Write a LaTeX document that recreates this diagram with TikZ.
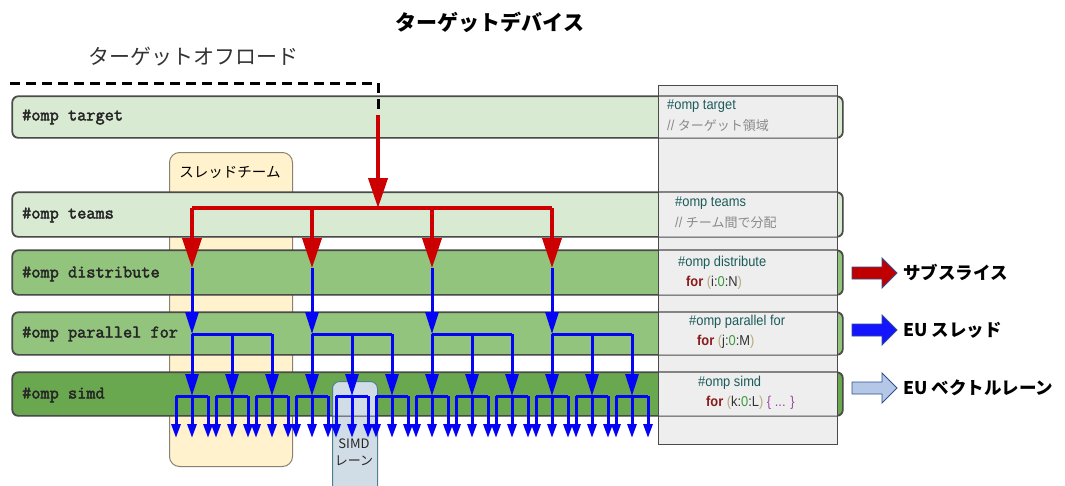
\documentclass[tikz,border=0pt]{standalone}
\usepackage{fontspec}
\usetikzlibrary{arrows.meta}
\newfontfamily\jp{Noto Sans CJK JP}
\newfontfamily\narf[FakeStretch=0.9]{Liberation Sans}
\newfontfamily\monof[FakeBold=2.5]{Latin Modern Mono}
\definecolor{lightg}{HTML}{D9EAD3}
\definecolor{midg}{HTML}{93C47D}
\definecolor{darkg}{HTML}{6AA84F}
\definecolor{barline}{HTML}{4A4A4A}
\definecolor{greyfill}{HTML}{EEEEEE}
\definecolor{teamfill}{HTML}{FFF2CC}
\definecolor{teamline}{HTML}{8A8270}
\definecolor{simdfill}{HTML}{D0DCE6}
\definecolor{simdline}{HTML}{4F7F8F}
\definecolor{redc}{HTML}{CC0000}
\definecolor{bluec}{HTML}{0505F5}
\definecolor{tealc}{HTML}{1D5B5B}
\definecolor{cmtc}{HTML}{8A8A8A}
\definecolor{forc}{HTML}{8B1A1A}
\definecolor{parc}{HTML}{B8A77A}
\definecolor{numc}{HTML}{3C9A3C}
\definecolor{idc}{HTML}{333333}
\definecolor{bracec}{HTML}{9B4A9B}
\definecolor{legred}{HTML}{C00000}
\definecolor{legblue}{HTML}{1414FF}
\definecolor{legltblue}{HTML}{B4C7E7}
\definecolor{legline}{HTML}{2F4F8F}
\begin{document}
\begin{tikzpicture}[x=1pt,y=-1pt,
  bar/.style={draw=barline, line width=1.1pt, rounded corners=6pt, anchor=north west, minimum width=830pt, inner sep=0pt},
  bartext/.style={anchor=west, inner sep=0pt, font=\monof\fontsize{17.8}{17.8}\selectfont, text=black!85},
  codetext/.style={anchor=west, inner sep=0pt, font=\narf\fontsize{14.3}{14.3}\selectfont},
  legtext/.style={anchor=west, inner sep=0pt, font=\jp\bfseries\fontsize{17.5}{18}\selectfont},
  redline/.style={draw=redc, line width=4pt},
  redarr/.style={redline, -{Triangle[length=30pt,width=19pt]}},
  blueline/.style={draw=bluec, line width=3pt},
  bluearrA/.style={blueline, -{Triangle[length=22pt,width=13pt]}},
  bluearrB/.style={blueline, -{Triangle[length=14pt,width=9pt]}},
  legarrow/.style={draw=legline, line width=0.8pt, line join=miter}
]
\useasboundingbox (0,0) rectangle (1065,485);
\clip (0,0) rectangle (1065,485);

% titles
\node[font=\jp\bfseries\fontsize{21}{21}\selectfont] (title) at (490,22) {ターゲットデバイス};
\node[font=\jp\fontsize{21}{21}\selectfont, text=black!80] (offload) at (193,57) {ターゲットオフロード};

% thread team box
\node[draw=teamline, fill=teamfill, line width=1pt, rounded corners=10pt, anchor=north west,
      minimum width=123pt, minimum height=314pt, inner sep=0pt] (team) at (169,152) {};
\node[font=\jp\fontsize{14.5}{15}\selectfont] (teamlbl) at (230,172) {スレッドチーム};

% bars
\node[bar, fill=lightg, minimum height=41pt] (btarget) at (12,96) {};
\node[bar, fill=lightg, minimum height=44pt] (bteams) at (12,192) {};
\node[bar, fill=midg, minimum height=44pt] (bdist) at (12,250) {};
\node[bar, fill=midg, minimum height=42pt] (bpar) at (12,312) {};
\node[bar, fill=darkg, minimum height=43pt] (bsimd) at (12,372) {};

% SIMD lane box
\node[draw=simdline, fill=simdfill, line width=1pt, rounded corners=7pt, anchor=north west,
      minimum width=45pt, minimum height=120pt, inner sep=0pt] (simdbox) at (332,381) {};
\node[font=\jp\fontsize{13}{17}\selectfont, align=center, text=black!85] (simdlbl) at (354,452) {SIMD\\レーン};

% grey code box
\node[draw=barline, fill=greyfill, line width=1.1pt, anchor=north west,
      minimum width=179pt, minimum height=359pt, inner sep=0pt] (grey) at (658,85) {};

% bar outlines over the grey box
\foreach \b in {btarget,bteams,bdist,bpar,bsimd}
  \draw[draw=barline, line width=1.1pt, rounded corners=6pt] (\b.north west) rectangle (\b.south east);

% bar texts
\node[bartext] (ttarget) at (22,117) {\#omp target};
\node[bartext] (tteams) at (22,215) {\#omp teams};
\node[bartext] (tdist) at (22,274) {\#omp distribute};
\node[bartext] (tpar) at (22,334) {\#omp parallel for};
\node[bartext] (tsimd) at (22,395) {\#omp simd};

% code texts
\node[codetext, text=tealc] (c1) at (667,106) {\#omp target};
\node[codetext, text=cmtc] (c1b) at (667,126) {// {\jp\fontsize{13}{13}\selectfont ターゲット領域}};
\node[codetext, text=tealc] (c2) at (675,203) {\#omp teams};
\node[codetext, text=cmtc] (c2b) at (675,223) {// {\jp\fontsize{13}{13}\selectfont チーム間で分配}};
\node[codetext, text=tealc] (c3) at (678,263) {\#omp distribute};
\node[codetext] (c3b) at (686,283) {\textcolor{forc}{\bfseries for} \textcolor{parc}{(}\textcolor{idc}{i:}\textcolor{numc}{0}\textcolor{idc}{:N}\textcolor{parc}{)}};
\node[codetext, text=tealc] (c4) at (689,322) {\#omp parallel for};
\node[codetext] (c4b) at (697,342) {\textcolor{forc}{\bfseries for} \textcolor{parc}{(}\textcolor{idc}{j:}\textcolor{numc}{0}\textcolor{idc}{:M}\textcolor{parc}{)}};
\node[codetext, text=tealc] (c5) at (698,383) {\#omp simd};
\node[codetext] (c5b) at (706,403) {\textcolor{forc}{\bfseries for} \textcolor{parc}{(}\textcolor{idc}{k:}\textcolor{numc}{0}\textcolor{idc}{:L}\textcolor{parc}{)} \textcolor{bracec}{\{ ... \}}};

% offload dashed line
\coordinate (offL) at (10,83);
\coordinate (offC) at (378,83);
\coordinate (offE) at (378,113);
\draw[black, line width=3pt, dash pattern=on 10pt off 6pt] (offL) -- (offC) -- (offE);

% red distribution
\coordinate (src) at (378,115);
\coordinate (hub) at (378,208);
\coordinate (hL) at (192,208);
\coordinate (hR) at (552,208);
\draw[redline, line cap=square] (hL) -- (hR);
\draw[redarr] (src) -- (hub);

\foreach \i [evaluate=\i as \tx using 192+120*\i] in {0,1,2,3} {
  \coordinate (tm\i) at (\tx,208);
  \coordinate (td\i) at (\tx,268);
  \coordinate (tp\i) at (\tx,334);
  \coordinate (tpe\i) at (\tx+80,334);
  \draw[redarr] (tm\i) -- (td\i);
  \draw[blueline, line cap=square] (tp\i) -- (tpe\i);
  \draw[bluearrA] (td\i) -- (tp\i);
  \foreach \j [evaluate=\j as \hx using \tx+40*\j] in {0,1,2} {
    \coordinate (th\i\j) at (\hx,334);
    \coordinate (ts\i\j) at (\hx,396);
    \coordinate (lsL\i\j) at (\hx-16,396);
    \coordinate (lsR\i\j) at (\hx+16,396);
    \draw[blueline, line cap=square] (lsL\i\j) -- (lsR\i\j);
    \draw[bluearrA] (th\i\j) -- (ts\i\j);
    \foreach \k [evaluate=\k as \lx using \hx+16*(\k-1)] in {0,1,2} {
      \coordinate (la\i\j\k) at (\lx,396);
      \coordinate (lb\i\j\k) at (\lx,438);
      \draw[bluearrB] (la\i\j\k) -- (lb\i\j\k);
    }
  }
}

% legend arrows
\draw[legarrow, fill=legred] (852,267) -- (882,267) -- (882,258) -- (897,273) -- (882,288) -- (882,279) -- (852,279) -- cycle;
\draw[legarrow, fill=legblue] (852,324) -- (882,324) -- (882,315) -- (897,330) -- (882,345) -- (882,336) -- (852,336) -- cycle;
\draw[legarrow, fill=legltblue] (852,382) -- (882,382) -- (882,373) -- (897,388) -- (882,403) -- (882,394) -- (852,394) -- cycle;
\node[legtext] (l1) at (903,272) {サブスライス};
\node[legtext] (l2) at (903,330) {EU スレッド};
\node[legtext] (l3) at (903,388) {EU ベクトルレーン};
\end{tikzpicture}
\end{document}
